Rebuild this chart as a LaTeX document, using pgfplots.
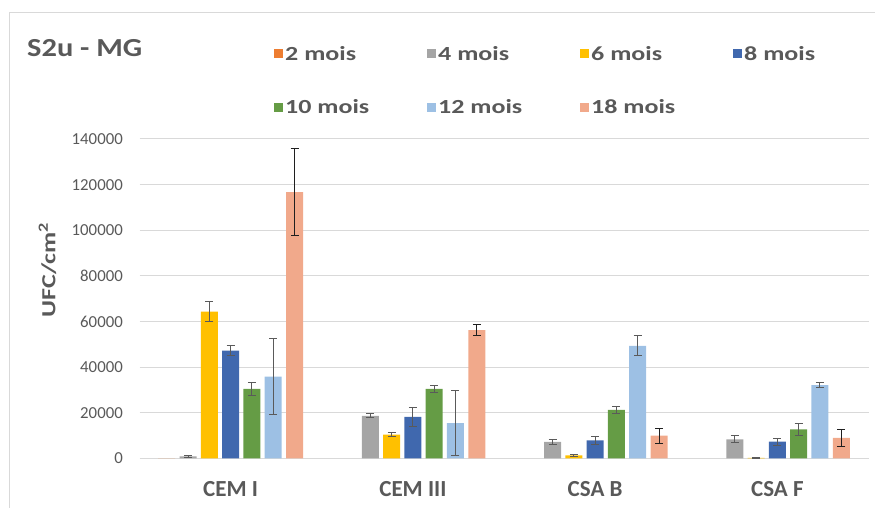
\documentclass[border=0pt]{standalone}
\usepackage{pgfplots}
\pgfplotsset{compat=1.18}
\usepackage{fontspec}
\setmainfont{Carlito}
\newfontfamily\widefont{Carlito}[FakeStretch=1.3]
\newfontfamily\titlefont{Carlito}[FakeStretch=1.17]

\definecolor{c2}{HTML}{ED7D31}
\definecolor{c4}{HTML}{A5A5A5}
\definecolor{c6}{HTML}{FFC000}
\definecolor{c8}{HTML}{4068AE}
\definecolor{c10}{HTML}{659C45}
\definecolor{c12}{HTML}{9DC0E4}
\definecolor{c18}{HTML}{F1A98B}
\definecolor{txt}{HTML}{595959}
\definecolor{gridc}{HTML}{D9D9D9}
\definecolor{ebg}{HTML}{5A5A5A}
\definecolor{ebk}{HTML}{1F1F1F}

\pgfplotsset{
  eb/.style={
    error bars/y dir=both,
    error bars/y explicit,
    error bars/error bar style={line width=1pt, color=#1},
    error bars/error mark options={rotate=90, mark size=4pt, line width=1pt, color=#1}
  }
}

\begin{document}
\begin{tikzpicture}[x=1pt,y=1pt]
\useasboundingbox (0,0) rectangle (875,508);
\draw[gridc, line width=1pt] (9.5,0) -- (9.5,495) -- (875,495);
\node[anchor=base west, inner sep=0pt, text=txt, font=\titlefont\bfseries\fontsize{26}{26}\selectfont] at (27,451) {S2u - MG};
\node[rotate=90, inner sep=0pt, text=txt, font=\widefont\bfseries\fontsize{20}{20}\selectfont] at (47.5,238) {UFC/cm\textsuperscript{2}};

\begin{axis}[
  at={(139.5pt,49.5pt)}, anchor=south west,
  scale only axis, width=729pt, height=319.5pt,
  ybar=4.3pt, bar width=17pt,
  xmin=0, xmax=4, ymin=0, ymax=140000,
  xtick={0.5,1.5,2.5,3.5},
  xticklabels={CEM I,CEM III,CSA B,CSA F},
  ytick={0,20000,...,140000},
  scaled y ticks=false,
  /pgf/number format/fixed,
  /pgf/number format/1000 sep={},
  /pgf/number format/assume math mode=true,
  axis line style={draw=none},
  major tick length=0pt,
  ymajorgrids,
  grid style={gridc, line width=1pt},
  xticklabel style={anchor=base, yshift=-38pt, inner sep=0pt, text=txt, font=\bfseries\fontsize{23}{23}\selectfont},
  yticklabel style={anchor=east, xshift=-16.5pt, inner sep=0pt, text=txt, font=\fontsize{16.8}{17}\selectfont},
  legend columns=4,
  legend cell align=left,
  legend image code/.code={\fill[#1] (0pt,-4.5pt) rectangle (9pt,4.5pt);},
  legend style={at={(0.1845,1.291)}, anchor=north west, draw=none, fill=none,
    inner sep=0pt, row sep=38pt, nodes={inner sep=0pt},
    font=\widefont\bfseries\fontsize{20}{20}\selectfont, text=txt,
    /tikz/every odd column/.append style={column sep=2pt}},
]

\addplot[fill=c2, draw=none] coordinates {(0.5,0)};
\addlegendentry{\makebox[142pt][l]{2 mois}}

\addplot[fill=c4, draw=none, eb=ebg] coordinates {
  (0.5,900) +- (0,300)
  (1.5,18700) +- (0,800)
  (2.5,7300) +- (0,1100)
  (3.5,8400) +- (0,1500)
};
\addlegendentry{\makebox[142pt][l]{4 mois}}

\addplot[fill=c6, draw=none, eb=ebg] coordinates {
  (0.5,64400) +- (0,4400)
  (1.5,10500) +- (0,1000)
  (2.5,1400) +- (0,500)
  (3.5,300) +- (0,100)
};
\addlegendentry{\makebox[142pt][l]{6 mois}}

\addplot[fill=c8, draw=none, eb=ebg] coordinates {
  (0.5,47250) +- (0,2300)
  (1.5,18200) +- (0,4200)
  (2.5,7900) +- (0,1600)
  (3.5,7400) +- (0,1500)
};
\addlegendentry{\makebox[142pt][l]{8 mois}}

\addplot[fill=c10, draw=none, eb=ebg] coordinates {
  (0.5,30500) +- (0,3000)
  (1.5,30500) +- (0,1400)
  (2.5,21300) +- (0,1600)
  (3.5,12800) +- (0,2600)
};
\addlegendentry{\makebox[142pt][l]{10 mois}}

\addplot[fill=c12, draw=none, eb=ebg] coordinates {
  (0.5,35900) +- (0,16500)
  (1.5,15500) +- (0,14400)
  (2.5,49400) +- (0,4300)
  (3.5,32200) +- (0,1300)
};
\addlegendentry{\makebox[142pt][l]{12 mois}}

\addplot[fill=c18, draw=none, eb=ebk] coordinates {
  (0.5,116700) +- (0,19000)
  (1.5,56300) +- (0,2600)
  (2.5,10000) +- (0,3300)
  (3.5,9000) +- (0,3700)
};
\addlegendentry{\makebox[142pt][l]{18 mois}}

\end{axis}
\end{tikzpicture}
\end{document}
